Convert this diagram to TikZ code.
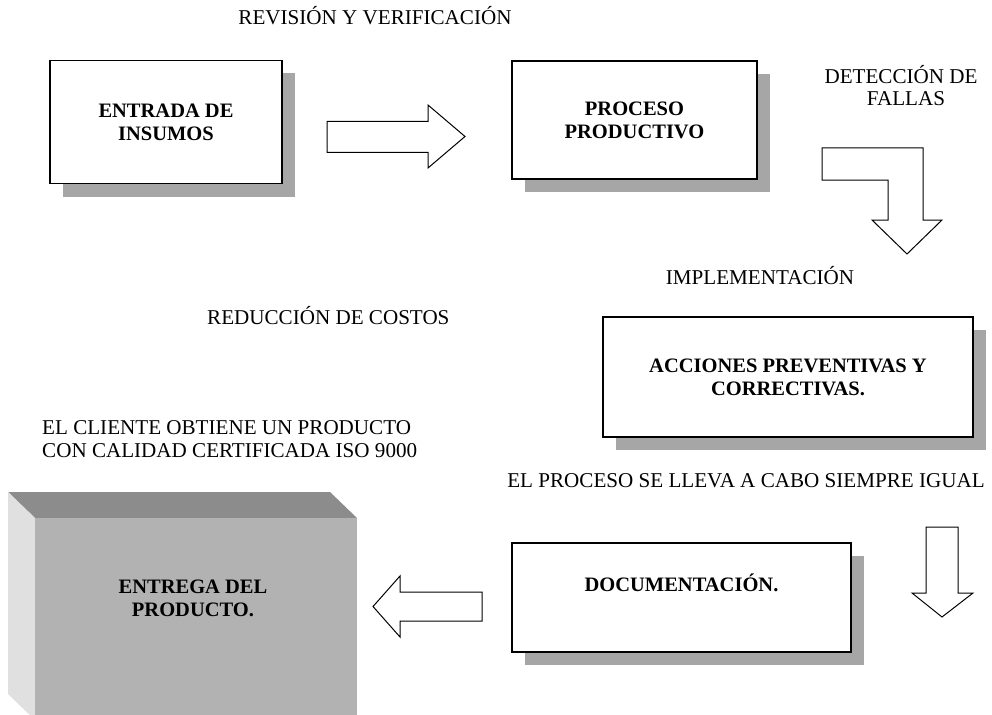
\documentclass[tikz,border=0pt]{standalone}
\usepackage{fontspec}
\setmainfont{Liberation Serif}
\usetikzlibrary{shadows}
\newcommand\labfont{\fontsize{21.1}{23}\selectfont}
\newcommand\boxfont{\fontsize{20.5}{23}\selectfont\bfseries}
\begin{document}
\begin{tikzpicture}[x=1pt,y=-1pt,
  lbl/.style={font=\labfont, inner sep=0pt, anchor=base},
  stagebox/.style={draw, fill=white, line width=1.2pt, font=\boxfont, align=center, inner sep=0pt,
     drop shadow={shadow xshift=13pt, shadow yshift=-13pt, fill=black!35, opacity=1}},
  blockarrow/.style={draw, fill=white, line width=1pt, line join=miter},
  facetop/.style={fill=black!45},
  faceside/.style={fill=black!12},
  facefront/.style={fill=black!30}
]
\clip (0,0) rectangle (992,714);
\fill[white] (0,0) rectangle (992,714);

% boxes
\node[stagebox, minimum width=232pt, minimum height=123pt] (insumos) at (166,122) {ENTRADA DE\\INSUMOS};
\node[stagebox, minimum width=245pt, minimum height=118pt] (proceso) at (634.5,120) {PROCESO\\PRODUCTIVO};
\node[stagebox, minimum width=370pt, minimum height=120pt] (acciones) at (788,377) {ACCIONES PREVENTIVAS Y\\CORRECTIVAS.};
\node[stagebox, minimum width=339pt, minimum height=109pt] (docum) at (681.5,597.5) {DOCUMENTACIÓN.\\\strut};

% 3D box
\fill[facetop] (8,492) -- (330,492) -- (357,518) -- (35,518) -- cycle;
\fill[faceside] (8,492) -- (35,518) -- (35,720) -- (8,694) -- cycle;
\fill[facefront] (35,518) rectangle (357,720);
\node[font=\boxfont, align=center, inner sep=0pt] (entrega) at (193,598) {ENTREGA DEL\\PRODUCTO.};

% block arrows
\draw[blockarrow] (327,121.5) -- (428,121.5) -- (428,105) -- (465,136.5) -- (428,168) -- (428,152.5) -- (327,152.5) -- cycle;
\draw[blockarrow] (822,148) -- (923,148) -- (923,220) -- (942,220) -- (907,254) -- (872,220) -- (888,220) -- (888,180) -- (822,180) -- cycle;
\draw[blockarrow] (926,527) -- (958,527) -- (958,593) -- (973,593) -- (942,617) -- (912,593) -- (926,593) -- cycle;
\draw[blockarrow] (482,592) -- (400,592) -- (400,576) -- (373,606.5) -- (400,637) -- (400,621) -- (482,621) -- cycle;

% labels
\node[lbl] (rev) at (375,25) {REVISIÓN Y VERIFICACIÓN};
\node[lbl] (det1) at (901,84) {DETECCIÓN DE};
\node[lbl] (det2) at (906,106) {FALLAS};
\node[lbl] (impl) at (760,284) {IMPLEMENTACIÓN};
\node[lbl, anchor=base west] (red) at (207,324) {REDUCCIÓN DE COSTOS};
\node[lbl, anchor=base west] (cli1) at (42,434) {EL CLIENTE OBTIENE UN PRODUCTO};
\node[lbl, anchor=base west] (cli2) at (42,457) {CON CALIDAD CERTIFICADA ISO 9000};
\node[lbl] (igual) at (746,487) {EL PROCESO SE LLEVA A CABO SIEMPRE IGUAL};
\end{tikzpicture}
\end{document}
